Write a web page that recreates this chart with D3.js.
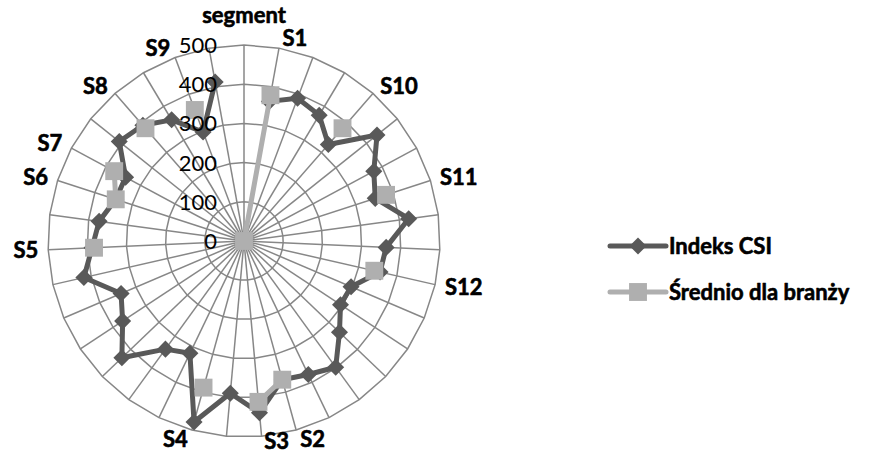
<!DOCTYPE html>
<html>
<head>
<meta charset="utf-8">
<script src="https://cdn.jsdelivr.net/npm/d3@7/dist/d3.min.js"></script>
<style>
  html, body { margin: 0; padding: 0; background: #ffffff; }
  svg { display: block; }
</style>
</head>
<body>
<div id="chart"></div>
<script>
// Category labels around the radar (one spoke per row; only the first row of each segment is labelled)
const categories = [
  "segment", "S1", "", "", "S10", "", "", "S11", "", "", "S12", "", "", "", "", "",
  "S2", "S3", "", "S4", "", "", "", "", "", "", "S5", "", "S6", "S7", "", "S8", "", "S9", ""
];

// Indeks CSI per row
const indeksCSI = [
  null, 362, 389, 374, 327, 434, 376, 352, 424, 363, 356, 297, 295, 337, 398, 378,
  367, 440, 390, 479, 318, 341, 431, 371, 341, 419, 388, 373, 344, 343, 407, 392, 360, 297, 412
];

// Industry average per segment (first row of each segment)
const srednio = [
  0, 378, null, null, 382, null, null, 381, null, null, 341, null, null, null, null, null,
  367, 412, null, 388, null, null, null, null, null, null, 383, null, 344, 376, null, 382, null, 357, null
];

const tickValues = [0, 100, 200, 300, 400, 500];
const seriesNames = ["Indeks CSI", "Średnio dla branży"];

const W = 875, H = 455;
const cx = 244, cy = 241, R = 196;
const n = categories.length;
const fontFamily = "Lato, 'Open Sans', sans-serif";

const svg = d3.select("#chart").append("svg")
  .attr("width", W).attr("height", H)
  .attr("viewBox", `0 0 ${W} ${H}`);

const r = d3.scaleLinear().domain([0, 500]).range([0, R]);
const angle = d3.scaleLinear().domain([0, n]).range([0, 2 * Math.PI]);

const g = svg.append("g").attr("transform", `translate(${cx},${cy})`);

const gridColor = "#878787";

// Ring gridlines (polygons through every spoke)
const ringLine = d3.lineRadial()
  .angle((d, i) => angle(i))
  .radius(d => r(d))
  .curve(d3.curveLinearClosed);

g.append("g").selectAll("path")
  .data(tickValues.filter(v => v > 0))
  .join("path")
  .attr("d", v => ringLine(d3.range(n).map(() => v)))
  .attr("fill", "none")
  .attr("stroke", gridColor)
  .attr("stroke-width", 1.5);

// Spokes
g.append("g").selectAll("line")
  .data(d3.range(n))
  .join("line")
  .attr("x1", 0).attr("y1", 0)
  .attr("x2", i => r(500) * Math.sin(angle(i)))
  .attr("y2", i => -r(500) * Math.cos(angle(i)))
  .attr("stroke", gridColor)
  .attr("stroke-width", 1.5);

// Series lines (closed loop, gaps where a value is missing)
function pointsOf(values) {
  return values.map((v, i) => ({ i, v }));
}
const seriesLine = d3.lineRadial()
  .defined(d => d.v != null)
  .angle(d => angle(d.i))
  .radius(d => r(d.v));

function closedPath(values) {
  const pts = pointsOf(values);
  pts.push({ i: n, v: values[0] });
  return seriesLine(pts);
}

const darkColor = "#595959";
const lightColor = "#afafaf";

const diamond = d3.symbol().type(d3.symbolDiamond2).size(185);
const square = d3.symbol().type(d3.symbolSquare).size(320);

function drawSeries(values, color, sym) {
  const sg = g.append("g");
  sg.append("path")
    .attr("d", closedPath(values))
    .attr("fill", "none")
    .attr("stroke", color)
    .attr("stroke-width", 5)
    .attr("stroke-linejoin", "round");
  sg.selectAll("path.m")
    .data(pointsOf(values).filter(d => d.v != null))
    .join("path")
    .attr("class", "m")
    .attr("d", sym)
    .attr("fill", color)
    .attr("transform", d => {
      const a = angle(d.i), rr = r(d.v);
      return `translate(${rr * Math.sin(a)},${-rr * Math.cos(a)})`;
    });
}

drawSeries(indeksCSI, darkColor, diamond);
drawSeries(srednio, lightColor, square);

// Value axis labels along the vertical spoke
g.append("g").selectAll("text")
  .data(tickValues)
  .join("text")
  .attr("x", -27)
  .attr("y", v => -r(v))
  .attr("dy", "0.36em")
  .attr("text-anchor", "end")
  .attr("font-family", fontFamily)
  .attr("font-size", 22)
  .attr("fill", "#000")
  .text(v => v);

// Heavier bold text
function boldText(sel) {
  return sel
    .attr("font-family", fontFamily)
    .attr("font-weight", "bold")
    .attr("font-size", 22)
    .attr("fill", "#000")
    .attr("stroke", "#000")
    .attr("stroke-width", 0.6)
    .attr("stroke-linejoin", "round");
}

// Category labels outside the outer ring
const labelG = g.append("g");
categories.forEach((lab, i) => {
  if (!lab) return;
  const a = angle(i);
  const s = Math.sin(a), c = Math.cos(a);
  const px = R * s, py = -R * c;
  let x, y, anchor;
  if (Math.abs(s) < 0.05) {
    anchor = "middle";
    x = px;
    y = py - 30 * Math.sign(c);
  } else {
    anchor = s > 0 ? "start" : "end";
    x = px + Math.sign(s) * (2 + 8 * Math.abs(s));
    y = py - 10 * c;
  }
  // keep the lowest labels inside the drawing area
  y = Math.min(y, H - cy - 14);
  boldText(labelG.append("text"))
    .attr("x", x)
    .attr("y", y)
    .attr("dy", "0.36em")
    .attr("text-anchor", anchor)
    .text(lab);
});

// Legend
const legend = svg.append("g").attr("transform", "translate(610,0)");
const legendItems = [
  { name: seriesNames[0], color: darkColor, sym: diamond, y: 246 },
  { name: seriesNames[1], color: lightColor, sym: square, y: 292 }
];
legendItems.forEach(it => {
  legend.append("line")
    .attr("x1", 0).attr("x2", 56)
    .attr("y1", it.y).attr("y2", it.y)
    .attr("stroke", it.color)
    .attr("stroke-width", 5)
    .attr("stroke-linecap", "round");
  legend.append("path")
    .attr("d", it.sym)
    .attr("fill", it.color)
    .attr("transform", `translate(28,${it.y})`);
  boldText(legend.append("text"))
    .attr("x", 59)
    .attr("y", it.y)
    .attr("dy", "0.36em")
    .text(it.name);
});
</script>
</body>
</html>
